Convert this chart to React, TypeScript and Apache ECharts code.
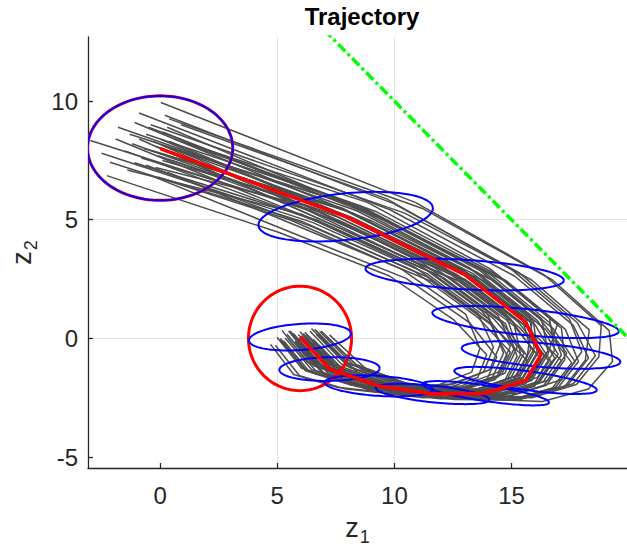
import React, { useEffect, useRef } from "react";
import * as echarts from "echarts";

// ---- data ----
const xTickValues = [0, 5, 10, 15];
const yTickValues = [-5, 0, 5, 10];
const titleText = "Trajectory";

// mean trajectory (red)
const meanPath = [
  [0, 8.0], [7.92, 5.13], [13.0, 2.69], [15.6, 0.69], [16.26, -0.7], [15.6, -1.77],
  [13.9, -2.31], [11.63, -2.34], [9.33, -2.0], [7.23, -1.29], [5.97, 0.06],
];

// covariance ellipses: [cx, cy, rx, ry, angleDeg]
const covEllipses = [
  [0, 8.02, 3.1, 2.2, 0],
  [7.92, 5.13, 3.74, 0.98, 5.8],
  [13.0, 2.69, 4.24, 0.62, -3.4],
  [15.6, 0.69, 4.0, 0.55, -5.7],
  [16.26, -0.7, 3.4, 0.5, -5],
  [15.6, -1.77, 3.07, 0.4, -7.7],
  [13.9, -2.31, 2.73, 0.33, -8.3],
  [11.63, -2.34, 2.44, 0.35, -5.9],
  [9.33, -2.0, 2.31, 0.42, -3.7],
  [7.23, -1.29, 2.14, 0.5, 1],
  [5.97, 0.06, 2.18, 0.55, 4],
];

// initial set (red ellipse) and terminal set (red circle)
const initialSet = [[0, 8.02, 3.1, 2.2, 0]];
const terminalSet = [[5.97, 0.0, 2.2, 2.2, 0]];

// constraint z1 + z2 = 20
const constraintLine = [[7, 13], [20, 0]];

// sampled trajectories
const trajectories = [
  [[0.03,9.94],[10.91,5.72],[16.39,2.68],[18.83,0.54],[18.73,-0.77],[17.77,-1.94],[15.86,-2.50],[13.37,-2.41],[10.50,-1.95],[8.25,-1.12],[6.81,0.29]],
  [[-2.98,8.34],[6.19,5.45],[11.04,3.12],[13.73,1.16],[14.95,-0.33],[14.45,-1.41],[12.86,-2.00],[10.71,-2.08],[8.74,-1.75],[6.72,-1.05],[5.55,0.31]],
  [[-2.28,6.86],[5.08,4.46],[9.79,2.63],[12.54,0.78],[13.94,-0.69],[13.56,-1.65],[12.06,-2.17],[9.99,-2.32],[7.57,-2.06],[5.70,-1.52],[4.71,-0.25]],
  [[-2.14,7.42],[5.56,4.99],[10.32,2.91],[13.05,1.01],[13.65,-0.42],[13.30,-1.42],[11.83,-1.98],[9.78,-2.12],[7.96,-1.87],[6.04,-1.26],[4.99,0.05]],
  [[-1.09,9.10],[9.02,4.95],[14.25,2.42],[16.79,0.40],[17.71,-0.98],[16.88,-2.06],[15.05,-2.58],[12.66,-2.54],[10.70,-2.22],[8.42,-1.42],[6.95,-0.04]],
  [[0.38,9.25],[11.23,5.46],[16.75,2.46],[19.17,0.33],[19.31,-0.97],[18.28,-2.13],[16.32,-2.66],[13.78,-2.56],[11.09,-2.11],[8.76,-1.26],[7.23,0.15]],
  [[-1.5,7.9],[6.97,4.83],[11.93,2.63],[14.58,0.68],[15.68,-0.75],[15.09,-1.78],[13.44,-2.30],[11.22,-2.37],[8.35,-2.02],[6.38,-1.41],[5.27,-0.10]],
  [[-0.6,8.6],[8.55,5.58],[13.71,2.90],[16.28,0.84],[16.55,-0.53],[15.86,-1.65],[14.13,-2.21],[11.84,-2.22],[9.92,-1.87],[7.74,-1.08],[6.39,0.31]],
  [[-0.3,8.3],[8.08,4.66],[13.18,2.37],[15.77,0.39],[16.70,-0.99],[15.98,-2.02],[14.25,-2.52],[11.94,-2.54],[9.13,-2.20],[7.06,-1.54],[5.83,-0.23]],
  [[0.2,8.1],[8.24,5.26],[13.36,2.73],[15.94,0.72],[16.11,-0.64],[15.47,-1.71],[13.78,-2.26],[11.53,-2.30],[9.43,-1.97],[7.32,-1.24],[6.04,0.12]],
  [[-0.8,7.6],[6.82,5.31],[11.75,2.96],[14.41,0.98],[15.10,-0.45],[14.58,-1.51],[12.98,-2.08],[10.81,-2.16],[8.94,-1.84],[6.89,-1.15],[5.69,0.21]],
  [[0.5,7.5],[7.45,4.98],[12.46,2.66],[15.09,0.68],[15.39,-0.67],[14.83,-1.71],[13.21,-2.24],[11.01,-2.31],[8.65,-2.00],[6.63,-1.35],[5.48,-0.03]],
  [[-0.2,7.2],[6.34,5.56],[11.21,3.17],[13.90,1.19],[14.52,-0.24],[14.07,-1.32],[12.52,-1.92],[10.40,-2.02],[8.26,-1.68],[6.29,-1.01],[5.20,0.34]],
  [[0.1,8.7],[9.34,5.07],[14.61,2.47],[17.13,0.43],[17.28,-0.89],[16.49,-1.97],[14.71,-2.49],[12.35,-2.48],[9.72,-2.11],[7.57,-1.38],[6.25,-0.03]],
  [[-1.2,8.2],[7.60,5.10],[12.64,2.71],[15.26,0.72],[16.41,-0.71],[15.73,-1.79],[14.02,-2.33],[11.73,-2.35],[9.62,-2.02],[7.49,-1.28],[6.18,0.07]],
  [[0.6,8.4],[8.87,5.72],[14.07,2.94],[16.62,0.87],[16.84,-0.50],[16.11,-1.64],[14.36,-2.22],[12.04,-2.21],[10.21,-1.85],[8.00,-1.02],[6.60,0.38]],
  [[-0.5,6.9],[5.71,4.42],[10.50,2.53],[13.22,0.65],[14.37,-0.78],[13.94,-1.75],[12.40,-2.25],[10.30,-2.38],[7.87,-2.12],[5.95,-1.57],[4.92,-0.29]],
  [[0.8,7.9],[7.92,4.84],[13.0,2.50],[15.6,0.52],[17.13,-0.93],[16.37,-1.99],[14.59,-2.51],[12.25,-2.50],[9.53,-2.14],[7.40,-1.44],[6.11,-0.10]],
  [[-1.8,8.9],[8.39,5.38],[13.54,2.78],[16.11,0.75],[16.99,-0.67],[16.24,-1.78],[14.48,-2.33],[12.14,-2.32],[9.23,-1.91],[7.14,-1.19],[5.90,0.17]],
  [[-0.9,9.5],[9.81,5.42],[15.14,2.62],[17.64,0.55],[18.29,-0.83],[17.39,-1.97],[15.51,-2.52],[13.07,-2.45],[10.31,-2.02],[8.08,-1.22],[6.67,0.17]],
  [[0.9,9.0],[9.65,5.89],[14.96,2.94],[17.47,0.83],[18.00,-0.56],[17.13,-1.74],[15.28,-2.32],[12.86,-2.26],[10.01,-1.79],[7.83,-0.98],[6.46,0.42]],
  [[-2.5,7.8],[6.50,4.89],[11.39,2.73],[14.07,0.78],[14.66,-0.61],[14.20,-1.62],[12.63,-2.15],[10.50,-2.26],[8.16,-1.96],[6.21,-1.36],[5.13,-0.06]],
  [[-0.1,7.7],[7.29,5.27],[12.29,2.85],[14.92,0.87],[15.97,-0.57],[15.34,-1.65],[13.67,-2.22],[11.42,-2.25],[8.84,-1.89],[6.80,-1.20],[5.62,0.15]],
  [[-1.4,7.1],[6.03,5.23],[10.86,3.01],[13.56,1.06],[14.23,-0.37],[13.81,-1.41],[12.29,-1.97],[10.19,-2.10],[8.55,-1.82],[6.55,-1.15],[5.41,0.19]],
  [[0.3,7.0],[6.66,4.41],[11.57,2.41],[14.24,0.50],[15.68,-0.95],[15.09,-1.94],[13.44,-2.43],[11.22,-2.50],[9.13,-2.24],[7.06,-1.59],[5.83,-0.28]],
  [[-0.7,8.0],[7.76,5.50],[12.82,2.95],[15.43,0.93],[15.82,-0.46],[15.22,-1.56],[13.55,-2.13],[11.32,-2.17],[9.33,-1.83],[7.23,-1.09],[5.97,0.28]],
  [[0.0,8.4],[8.71,4.82],[13.89,2.39],[16.45,0.38],[17.57,-1.02],[16.75,-2.09],[14.94,-2.59],[12.55,-2.57],[9.82,-2.20],[7.66,-1.48],[6.32,-0.14]],
  [[-1.9,8.4],[7.13,4.76],[12.11,2.55],[14.75,0.61],[15.24,-0.76],[14.71,-1.77],[13.09,-2.29],[10.91,-2.37],[9.04,-2.11],[6.97,-1.45],[5.76,-0.12]],
  [[1.1,8.2],[9.18,5.36],[14.43,2.66],[16.96,0.61],[16.55,-0.68],[15.86,-1.77],[14.13,-2.31],[11.84,-2.33],[10.40,-2.03],[8.17,-1.22],[6.74,0.17]],
  [[-0.4,9.0],[10.44,5.28],[15.86,2.46],[18.32,0.36],[18.15,-0.92],[17.26,-2.03],[15.40,-2.56],[12.96,-2.50],[10.89,-2.14],[8.59,-1.31],[7.09,0.08]],
  [[-0.3,7.9],[7.92,5.38],[13.0,2.85],[15.6,0.83],[16.11,-0.56],[15.47,-1.65],[13.78,-2.21],[11.53,-2.24],[9.53,-1.90],[7.40,-1.16],[6.11,0.21]],
  [[0.4,8.3],[8.30,5.02],[13.43,2.57],[16.01,0.57],[16.84,-0.83],[16.11,-1.90],[14.36,-2.43],[12.04,-2.43],[9.23,-2.05],[7.14,-1.37],[5.90,-0.02]],
  [[-0.9,8.4],[7.45,4.74],[12.46,2.50],[15.09,0.55],[16.26,-0.88],[15.6,-1.91],[13.9,-2.42],[11.63,-2.46],[9.04,-2.13],[6.97,-1.48],[5.76,-0.14]],
  [[0.1,7.5],[7.13,5.49],[12.11,3.02],[14.75,1.03],[15.24,-0.38],[14.71,-1.47],[13.09,-2.05],[10.91,-2.12],[8.74,-1.77],[6.72,-1.07],[5.55,0.28]],
  [[-0.5,8.9],[8.87,5.38],[14.07,2.72],[16.62,0.67],[17.13,-0.70],[16.37,-1.81],[14.59,-2.36],[12.25,-2.35],[9.72,-1.97],[7.57,-1.20],[6.25,0.16]],
  [[0.7,7.7],[7.67,4.66],[12.71,2.43],[15.33,0.47],[16.61,-0.96],[15.91,-1.99],[14.18,-2.49],[11.88,-2.52],[10.01,-2.23],[7.83,-1.51],[6.46,-0.16]],
  [[-1.1,7.4],[6.66,5.00],[11.57,2.78],[14.24,0.83],[15.53,-0.63],[14.96,-1.68],[13.32,-2.23],[11.12,-2.29],[8.45,-1.94],[6.46,-1.31],[5.34,0.02]],
  [[0.3,8.9],[9.50,5.04],[14.79,2.42],[17.30,0.38],[17.86,-0.97],[17.00,-2.06],[15.17,-2.58],[12.76,-2.54],[10.11,-2.16],[7.91,-1.41],[6.53,-0.04]],
  [[-0.2,8.1],[8.17,5.11],[13.29,2.64],[15.87,0.63],[15.68,-0.68],[15.09,-1.72],[13.44,-2.26],[11.22,-2.32],[9.43,-2.02],[7.32,-1.32],[6.04,0.03]],
  [[-0.6,7.3],[6.50,4.70],[11.39,2.60],[14.07,0.67],[14.81,-0.72],[14.32,-1.72],[12.75,-2.24],[10.60,-2.34],[9.23,-2.12],[7.14,-1.44],[5.90,-0.11]],
  [[0.5,8.0],[8.49,5.53],[13.64,2.87],[16.21,0.82],[17.36,-0.62],[16.57,-1.76],[14.77,-2.33],[12.41,-2.30],[9.62,-1.87],[7.49,-1.10],[6.18,0.26]],
  [[-1.3,8.6],[8.08,5.64],[13.18,2.99],[15.77,0.95],[15.97,-0.42],[15.34,-1.53],[13.67,-2.12],[11.42,-2.15],[8.65,-1.75],[6.63,-1.05],[5.48,0.31]],
  [[0.2,9.4],[9.97,5.68],[15.32,2.77],[17.81,0.66],[18.58,-0.73],[17.64,-1.91],[15.74,-2.47],[13.27,-2.38],[10.60,-1.93],[8.34,-1.09],[6.88,0.31]],
  [[-0.1,6.8],[6.03,4.94],[10.86,2.82],[13.56,0.89],[14.95,-0.58],[14.45,-1.61],[12.86,-2.16],[10.71,-2.25],[8.16,-1.92],[6.21,-1.31],[5.13,0.00]],
];

const FONT = '"Liberation Sans", Arial, Helvetica, sans-serif';
const AX = "#262626";

function ellipseSeries(data: number[][], color: string, width: number, z: number) {
  return {
    type: "custom",
    coordinateSystem: "cartesian2d",
    clip: true,
    silent: true,
    z,
    encode: { x: 0, y: 1 },
    data,
    renderItem: (params: any, api: any) => {
      const cx = api.value(0), cy = api.value(1), rx = api.value(2), ry = api.value(3);
      const a = (api.value(4) * Math.PI) / 180;
      const pts: number[][] = [];
      for (let i = 0; i <= 120; i++) {
        const t = (i / 120) * Math.PI * 2;
        const ex = rx * Math.cos(t), ey = ry * Math.sin(t);
        pts.push(api.coord([cx + ex * Math.cos(a) - ey * Math.sin(a), cy + ex * Math.sin(a) + ey * Math.cos(a)]));
      }
      return { type: "polyline", shape: { points: pts }, style: { stroke: color, lineWidth: width, fill: null } };
    },
  };
}

export default function App() {
  const ref = useRef<HTMLDivElement>(null);
  useEffect(() => {
    document.body.style.margin = "0";
    const chart = echarts.init(ref.current!, null, { renderer: "svg" });
    const series: any[] = [];
    trajectories.forEach((tr) => {
      series.push({
        type: "line", data: tr, symbol: "none", showSymbol: false, silent: true, z: 1,
        lineStyle: { color: "#4d4d4d", width: 1.5 }, clip: true,
      });
    });
    series.push(ellipseSeries(initialSet, "#ff0000", 3, 2));
    series.push(ellipseSeries(terminalSet, "#ff0000", 3, 2));
    series.push(ellipseSeries(covEllipses, "#0000ff", 2, 3));
    series.push({
      type: "line", data: meanPath, symbol: "none", showSymbol: false, silent: true, z: 4,
      lineStyle: { color: "#ff0000", width: 3.5 }, clip: true,
    });
    series.push({
      type: "line", data: constraintLine, symbol: "none", showSymbol: false, silent: true, z: 5,
      lineStyle: { color: "#00ff00", width: 3.5, type: [10, 3.5, 3, 3.5] }, clip: true,
    });

    chart.setOption({
      animation: false,
      backgroundColor: "#ffffff",
      grid: { left: 88, top: 37, width: 546, height: 431, containLabel: false },
      graphic: [
        {
          type: "text", x: 362, y: 4, z: 10,
          style: { text: titleText, fontSize: 24, fontWeight: "bold", fontFamily: FONT, fill: "#000", align: "center", verticalAlign: "top" },
        },
      ],
      xAxis: {
        type: "value", min: -3.08, max: 19.93, splitNumber: 4,
        name: "{z|z}{s|1}", nameLocation: "middle", nameGap: 46,
        nameTextStyle: {
          rich: {
            z: { fontSize: 27, fontFamily: FONT, color: AX, verticalAlign: "top", lineHeight: 30 },
            s: { fontSize: 18, fontFamily: FONT, color: AX, verticalAlign: "top", lineHeight: 18, padding: [14, 0, 0, 1] },
          },
        },
        axisLine: { show: true, onZero: false, lineStyle: { color: AX, width: 1.3 } },
        axisTick: { show: true, inside: true, length: 5, customValues: xTickValues, lineStyle: { color: AX, width: 1.3 } },
        axisLabel: { customValues: xTickValues, fontSize: 24, fontFamily: FONT, color: AX, margin: 15 },
        splitLine: { show: true, showMinLine: false, showMaxLine: false, lineStyle: { color: "#e3e3e3", width: 1 } },
      },
      yAxis: {
        type: "value", min: -5.46, max: 12.70, splitNumber: 4,
        name: "{z|z}{s|2}", nameLocation: "middle", nameGap: 50, nameRotate: 90,
        nameTextStyle: {
          rich: {
            z: { fontSize: 27, fontFamily: FONT, color: AX, verticalAlign: "top", lineHeight: 30 },
            s: { fontSize: 18, fontFamily: FONT, color: AX, verticalAlign: "top", lineHeight: 18, padding: [14, 0, 0, 1] },
          },
        },
        axisLine: { show: true, onZero: false, lineStyle: { color: AX, width: 1.3 } },
        axisTick: { show: true, inside: true, length: 5, customValues: yTickValues, lineStyle: { color: AX, width: 1.3 } },
        axisLabel: { customValues: yTickValues, fontSize: 24, fontFamily: FONT, color: AX, margin: 10 },
        splitLine: { show: true, showMinLine: false, showMaxLine: false, lineStyle: { color: "#e3e3e3", width: 1 } },
      },
      series,
    });
    return () => chart.dispose();
  }, []);
  return <div ref={ref} style={{ width: 627, height: 554 }} />;
}
